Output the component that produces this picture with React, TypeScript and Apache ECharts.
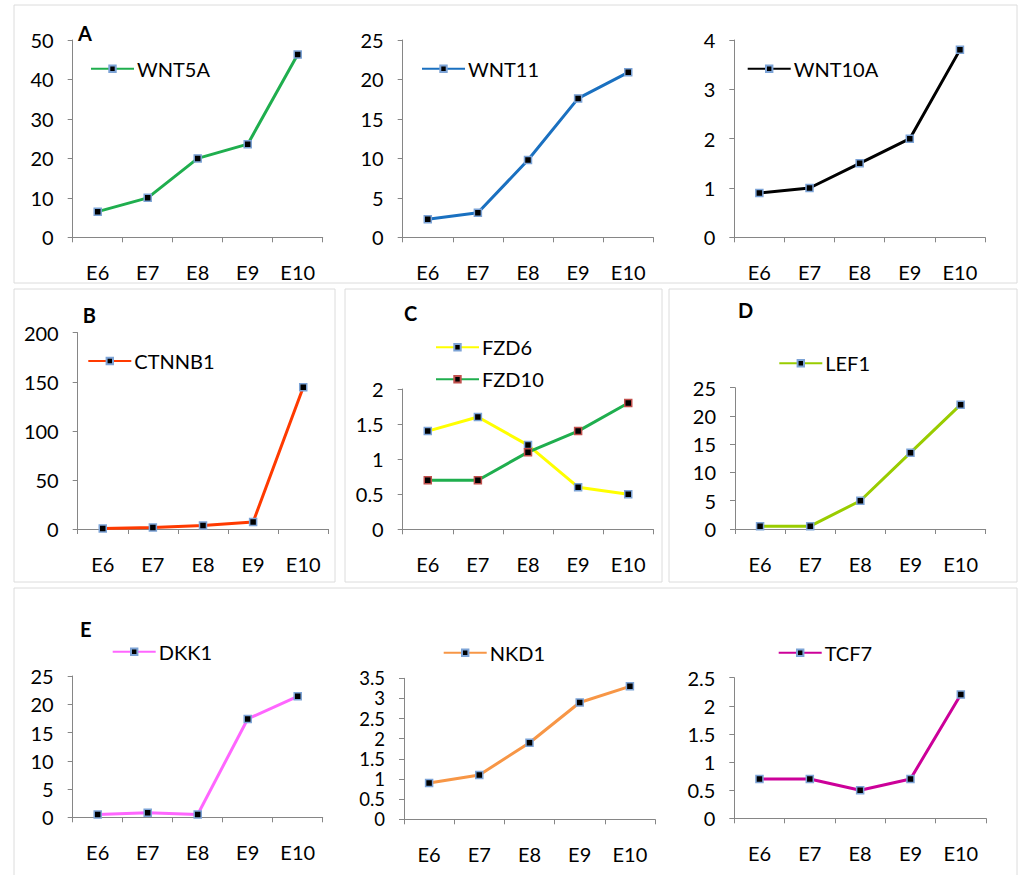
import { useEffect, useRef } from "react";
import * as echarts from "echarts";

const stages = ["E6", "E7", "E8", "E9", "E10"];

const wnt5a = [6.5, 10, 20, 23.6, 46.3];
const wnt11 = [2.3, 3.1, 9.8, 17.6, 20.9];
const wnt10a = [0.9, 1.0, 1.5, 2.0, 3.8];
const ctnnb1 = [0.5, 1.5, 3.5, 7.1, 144.4];
const fzd6 = [1.4, 1.6, 1.2, 0.6, 0.5];
const fzd10 = [0.7, 0.7, 1.1, 1.4, 1.8];
const lef1 = [0.5, 0.5, 5.0, 13.5, 22.0];
const dkk1 = [0.5, 0.8, 0.5, 17.4, 21.4];
const nkd1 = [0.9, 1.1, 1.9, 2.9, 3.3];
const tcf7 = [0.7, 0.7, 0.5, 0.7, 2.2];

const FONT = "Lato, 'Open Sans', sans-serif";
const FS = 20;

type S = { name: string; data: number[]; color: string; border: string; lx: number; ly: number };
type P = { l: number; t: number; w: number; h: number; max: number; interval: number; yfs: number; series: S[] };

const BLUE_B = "#7ca3d6";
const RED_B = "#c0504d";

const panels: P[] = [
  { l: 72.7, t: 40, w: 250, h: 197.3, max: 50, interval: 10, yfs: FS,
    series: [{ name: "WNT5A", data: wnt5a, color: "#1fae4e", border: BLUE_B, lx: 90, ly: 68.7 }] },
  { l: 402.7, t: 40, w: 250.6, h: 197.3, max: 25, interval: 5, yfs: FS,
    series: [{ name: "WNT11", data: wnt11, color: "#1a70c0", border: BLUE_B, lx: 421, ly: 68.7 }] },
  { l: 734.3, t: 40, w: 250.7, h: 197.3, max: 4, interval: 1, yfs: FS,
    series: [{ name: "WNT10A", data: wnt10a, color: "#000000", border: BLUE_B, lx: 746.7, ly: 68.7 }] },
  { l: 77.7, t: 332.7, w: 250.6, h: 196.3, max: 200, interval: 50, yfs: FS,
    series: [{ name: "CTNNB1", data: ctnnb1, color: "#ff3a00", border: BLUE_B, lx: 87.3, ly: 361 }] },
  { l: 402.7, t: 389, w: 250.6, h: 140.3, max: 2, interval: 0.5, yfs: FS,
    series: [
      { name: "FZD6", data: fzd6, color: "#ffff00", border: BLUE_B, lx: 435, ly: 347.3 },
      { name: "FZD10", data: fzd10, color: "#1fae4e", border: RED_B, lx: 435, ly: 379.3 },
    ] },
  { l: 735, t: 387.7, w: 250.7, h: 141.3, max: 25, interval: 5, yfs: FS,
    series: [{ name: "LEF1", data: lef1, color: "#99cc00", border: BLUE_B, lx: 778.3, ly: 363.3 }] },
  { l: 72.7, t: 676, w: 250, h: 141.3, max: 25, interval: 5, yfs: FS,
    series: [{ name: "DKK1", data: dkk1, color: "#ff66ff", border: BLUE_B, lx: 111.7, ly: 651.7 }] },
  { l: 404, t: 678.3, w: 251, h: 141, max: 3.5, interval: 0.5, yfs: 18.5,
    series: [{ name: "NKD1", data: nkd1, color: "#f79646", border: BLUE_B, lx: 442.7, ly: 652.7 }] },
  { l: 734.3, t: 677.7, w: 251.7, h: 140.6, max: 2.5, interval: 0.5, yfs: FS,
    series: [{ name: "TCF7", data: tcf7, color: "#cc0099", border: BLUE_B, lx: 777.7, ly: 652.7 }] },
];

const panelLetters = [
  { text: "A", x: 78, y: 33 },
  { text: "B", x: 82.7, y: 315 },
  { text: "C", x: 404, y: 312.5 },
  { text: "D", x: 738, y: 310 },
  { text: "E", x: 80, y: 629 },
];

const frames = [
  { x: 14, y: 5, w: 1003, h: 278 },
  { x: 14, y: 289, w: 321, h: 293 },
  { x: 345, y: 289, w: 317, h: 293 },
  { x: 669, y: 289, w: 348, h: 293 },
  { x: 14, y: 588, w: 1003, h: 300 },
];

export default function App() {
  const ref = useRef<HTMLDivElement>(null);
  useEffect(() => {
    if (!ref.current) return;
    const chart = echarts.init(ref.current, undefined, { renderer: "svg" });
    const grid: any[] = [];
    const xAxis: any[] = [];
    const yAxis: any[] = [];
    const series: any[] = [];
    const legend: any[] = [];
    panels.forEach((p, i) => {
      grid.push({ left: p.l, top: p.t, width: p.w, height: p.h, containLabel: false });
      xAxis.push({
        type: "category", gridIndex: i, data: stages, boundaryGap: true,
        axisLine: { show: true, lineStyle: { color: "#868686", width: 1 } },
        axisTick: { show: true, length: 5, alignWithLabel: false, lineStyle: { color: "#868686" } },
        axisLabel: { margin: 25, color: "#000", fontSize: FS, fontFamily: FONT, interval: 0 },
        splitLine: { show: false },
      });
      yAxis.push({
        type: "value", gridIndex: i, min: 0, max: p.max, interval: p.interval,
        axisLine: { show: true, lineStyle: { color: "#868686", width: 1 } },
        axisTick: { show: true, length: 5, lineStyle: { color: "#868686" } },
        axisLabel: { margin: 19, color: "#000", fontSize: p.yfs, fontFamily: FONT, lineHeight: 16 },
        splitLine: { show: false },
      });
      p.series.forEach((s) => {
        series.push({
          type: "line", name: s.name, xAxisIndex: i, yAxisIndex: i, data: s.data,
          symbol: "rect", symbolSize: 7, showSymbol: true,
          lineStyle: { color: s.color, width: 3 },
          itemStyle: { color: "#000", borderColor: s.border, borderWidth: 1.5 },
          z: 3,
        });
        legend.push({
          data: [s.name], left: s.lx, top: s.ly - 10, padding: 0,
          itemWidth: 43, itemHeight: 8, itemGap: 0,
          textStyle: { fontSize: FS, fontFamily: FONT, color: "#000", lineHeight: 20, padding: [0, 0, 0, -2] },
          selectedMode: false,
        });
      });
    });
    const graphic: any[] = [];
    frames.forEach((f) => {
      graphic.push({ type: "rect", shape: { x: f.x, y: f.y, width: f.w, height: f.h }, style: { fill: "none", stroke: "#dcdcdc", lineWidth: 1 }, silent: true, z: 0 });
    });
    panelLetters.forEach((l) => {
      graphic.push({ type: "text", x: l.x, y: l.y, style: { text: l.text, fontSize: 20, fontWeight: "bold", fontFamily: FONT, fill: "#000", verticalAlign: "middle", align: "left" }, z: 5 });
    });
    chart.setOption({
      animation: false,
      backgroundColor: "#fff",
      grid, xAxis, yAxis, series, legend, graphic,
    });
    return () => chart.dispose();
  }, []);
  return <div ref={ref} style={{ position: "absolute", left: 0, top: 0, width: 1021, height: 875 }} />;
}
